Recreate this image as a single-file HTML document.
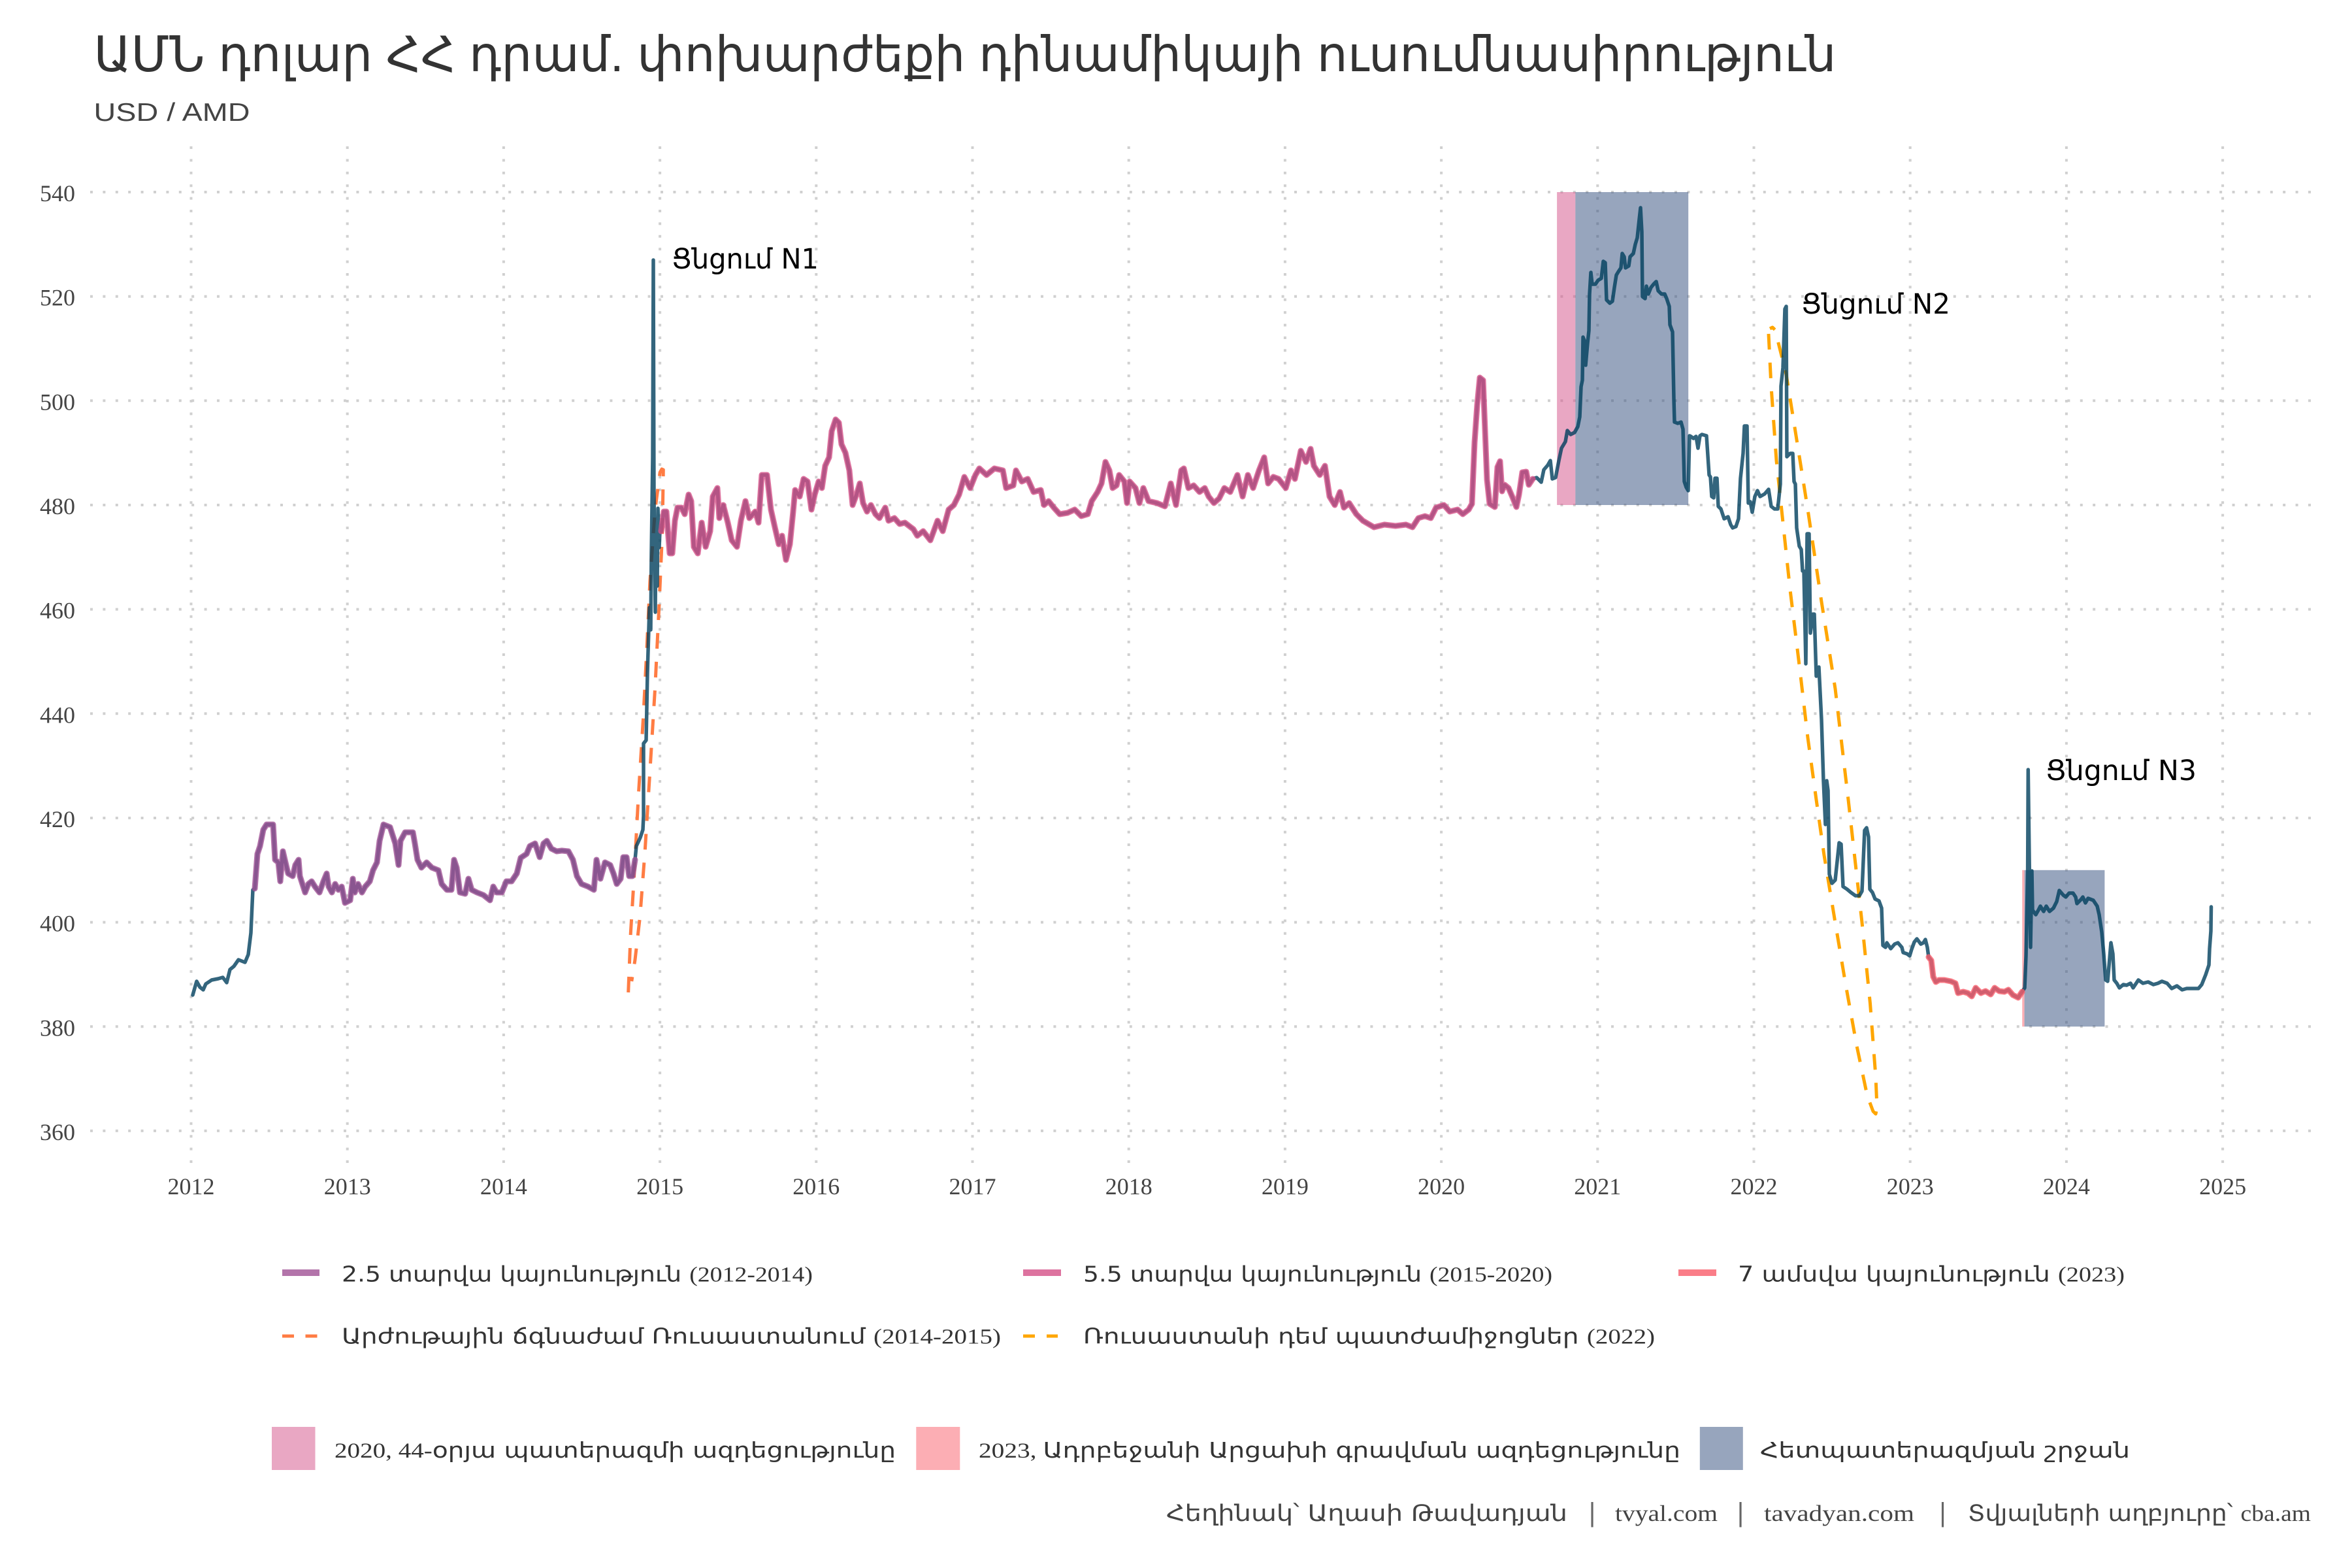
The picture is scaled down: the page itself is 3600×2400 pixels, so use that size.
<!DOCTYPE html>
<html><head><meta charset="utf-8"><style>
html,body{margin:0;padding:0;background:#fff;}
svg{display:block;}
</style></head><body>
<svg width="3600" height="2400" viewBox="0 0 3600 2400" xmlns="http://www.w3.org/2000/svg">
<rect x="0" y="0" width="3600" height="2400" fill="#ffffff"/>

<!-- Title -->
<text x="143.5" y="109" font-size="75" textLength="2667" lengthAdjust="spacingAndGlyphs" fill="#333333" font-family="'Liberation Sans','DejaVu Sans',sans-serif">ԱՄՆ դոլար ՀՀ դրամ. փոխարժեքի դինամիկայի ուսումնասիրություն</text>
<text x="143.5" y="185" font-size="39" textLength="239" lengthAdjust="spacingAndGlyphs" fill="#444444" font-family="'Liberation Sans','DejaVu Sans',sans-serif">USD / AMD</text>

<!-- Gridlines -->
<g stroke="#d0d0d0" stroke-width="4" stroke-dasharray="4 15.4" fill="none">
<path d="M138,294H3539 M138,453.7H3539 M138,613.3H3539 M138,773H3539 M138,932.6H3539 M138,1092.3H3539 M138,1252H3539 M138,1411.6H3539 M138,1571.3H3539 M138,1730.9H3539"/>
<path d="M292.5,1780V223 M531.7,1780V223 M770.9,1780V223 M1010.1,1780V223 M1249.3,1780V223 M1488.5,1780V223 M1727.7,1780V223 M1966.9,1780V223 M2206.1,1780V223 M2445.3,1780V223 M2684.5,1780V223 M2923.7,1780V223 M3162.9,1780V223 M3402.1,1780V223"/>
</g>

<!-- Shaded periods -->
<rect x="2383.1" y="294" width="28.2" height="479" fill="#d45087" fill-opacity="0.5"/>
<rect x="2411.3" y="294" width="172.9" height="479" fill="#2f4b7c" fill-opacity="0.5"/>
<rect x="3095.2" y="1331.8" width="3.4" height="239.5" fill="#f95d6a" fill-opacity="0.5"/>
<rect x="3098.6" y="1331.8" width="122.8" height="239.5" fill="#2f4b7c" fill-opacity="0.5"/>

<!-- Dashed crisis curves -->
<path d="M961.7,1519 L965.3,1428 970.4,1345 977,1221 984.7,1097 989.8,997 994.9,889 1002.6,781 1010.2,723 1013,718 1015.3,719 1013.8,815 1008.7,930 1002.6,1054 994.9,1179 987.2,1303 979.6,1403 972,1469 966.8,1502" fill="none" stroke="#ff7c43" stroke-width="5" stroke-dasharray="24 20" stroke-linejoin="round"/>
<path d="M2707,511 L2711,592 2719,705 2730,809 2740,903 2755,1026 2767,1129 2780,1224 2792,1309 2809,1412 2825,1507 2842,1601 2858,1677 2867,1701 2871,1705 2873,1696 2871,1648 2862.5,1536 2850,1412 2829,1224 2809,1054 2788,921 2767,780 2750.5,676 2734,573 2717,505 2713,501 2709,503" fill="none" stroke="#ffa600" stroke-width="5" stroke-dasharray="24 20" stroke-linejoin="round"/>

<!-- Main series -->
<path fill="none" stroke="#003f5c" stroke-opacity="0.8" stroke-width="5.5" stroke-linejoin="round" stroke-linecap="round" d="M295,1523 L301,1502 306,1511 311,1515 315,1506 324,1500 334,1498 341,1496 347,1504 352,1484 358,1479 365,1469 375,1473 380,1461 384,1428 387,1362 390,1360 394,1307 398,1295 403,1270 408,1262 418,1262 421,1316 426,1320 429,1349 433,1303 436,1316 441,1337 448,1341 452,1324 457,1316 459,1341 467,1366 472,1353 477,1349 482,1357 489,1366 495,1349 500,1337 503,1357 508,1366 513,1353 518,1362 523,1357 528,1382 536,1378 540,1345 543,1366 548,1353 554,1366 559,1357 566,1349 571,1332 577,1320 581,1287 587,1262 597,1266 605,1291 610,1324 613,1287 620,1274 632,1274 635,1291 639,1316 645,1328 653,1320 661,1328 671,1332 676,1353 684,1362 691,1362 695,1316 699,1328 704,1366 712,1368 717,1345 722,1362 730,1366 740,1370 750,1378 755,1357 760,1366 768,1366 775,1349 783,1349 791,1337 797,1313 806,1307 811,1295 819,1291 826,1312 832,1291 837,1287 844,1299 852,1303 860,1302 870,1303 877,1316 883,1341 890,1353 900,1357 909,1362 913,1316 919,1345 926,1320 934,1324 939,1337 944,1353 950,1345 954,1312 959,1312 963,1341 968,1341 972,1316 974,1295 980,1282 984,1270 985,1249 985,1138 989,1133 991,1030 994,930 996,964 997,847 999,700 1000,398 1001,758 1003,937 1004,798 1006,897 1007,778 1009,838 1010,814 1012,813 1016,783 1020,783 1025,847 1029,847 1033,797 1037,777 1043,777 1048,787 1054,757 1058,767 1062,837 1068,847 1074,800 1080,837 1087,813 1091,760 1098,747 1101,793 1107,773 1114,800 1120,827 1128,837 1134,797 1141,767 1147,793 1156,783 1161,800 1166,727 1174,727 1180,780 1186,807 1192,833 1197,820 1203,857 1209,833 1214,783 1217,750 1224,760 1230,733 1236,737 1242,780 1247,757 1253,737 1258,747 1263,713 1269,700 1273,660 1279,642 1284,647 1288,680 1294,693 1300,720 1305,773 1311,757 1316,740 1321,770 1327,783 1333,773 1340,787 1346,793 1355,777 1360,797 1369,793 1377,802 1385,800 1398,810 1404,820 1413,813 1424,827 1435,797 1443,813 1452,780 1460,773 1468,757 1476,730 1485,747 1493,727 1499,717 1510,727 1522,717 1535,720 1540,747 1551,743 1555,720 1564,737 1573,733 1582,753 1593,750 1598,773 1605,767 1613,777 1622,787 1634,785 1645,780 1655,790 1665,787 1671,767 1680,753 1686,740 1692,707 1698,720 1703,747 1709,743 1713,727 1721,737 1725,770 1729,737 1738,747 1744,770 1750,747 1758,767 1771,770 1783,775 1792,740 1800,773 1808,720 1812,717 1819,747 1827,743 1836,753 1844,747 1850,760 1858,770 1866,763 1874,747 1883,753 1894,727 1902,760 1910,727 1918,747 1927,720 1935,700 1941,740 1949,730 1957,733 1968,747 1976,720 1982,733 1991,690 1999,707 2006,687 2011,713 2020,727 2028,713 2035,760 2043,773 2051,753 2057,777 2065,770 2076,787 2086,797 2103,807 2119,803 2136,805 2152,803 2162,807 2171,793 2181,790 2190,793 2198,777 2210,773 2219,783 2231,780 2239,787 2248,780 2253,771 2257,677 2261,620 2265,578 2270,582 2273,658 2276,734 2280,771 2288,776 2292,715 2296,706 2299,752 2303,742 2309,747 2315,761 2321,776 2325,757 2330,723 2336,722 2340,742 2346,733 2352,731 2359,738 2363,719 2369,712 2373,705 2376,733 2381,731 2386,705 2390,686 2396,676 2399,659 2404,665 2410,662 2415,653 2418,638 2420,592 2422,582 2423,516 2425,521 2427,559 2430,525 2432,506 2433,450 2435,417 2437,435 2442,435 2446,429 2451,426 2454,400 2457,402 2459,459 2464,464 2468,461 2471,440 2474,421 2477,416 2481,410 2483,388 2486,393 2488,410 2493,407 2495,393 2500,388 2503,374 2506,364 2509,336 2511,318 2513,355 2514,454 2518,457 2520,438 2523,450 2527,440 2531,435 2535,431 2538,445 2543,450 2548,450 2551,457 2555,469 2556,497 2560,508 2562,610 2563,646 2568,648 2573,646 2576,657 2578,737 2581,746 2584,751 2586,667 2588,668 2592,671 2596,668 2599,686 2602,667 2605,665 2612,667 2616,727 2618,730 2620,760 2623,762 2625,732 2628,732 2630,775 2634,779 2639,794 2645,791 2649,803 2652,808 2657,806 2661,794 2664,732 2668,694 2670,652 2674,652 2676,770 2679,768 2682,784 2686,760 2690,751 2694,760 2701,756 2707,749 2711,775 2716,779 2721,779 2725,741 2726,591 2729,563 2732,473 2734,469 2735,699 2740,694 2744,694 2746,737 2748,741 2750,808 2754,836 2757,841 2759,874 2761,874 2764,1016 2766,817 2769,817 2771,969 2775,940 2777,940 2780,1035 2784,1021 2788,1101 2791,1195 2794,1262 2796,1195 2798,1210 2800,1338 2804,1352 2809,1347 2811,1328 2815,1290 2818,1292 2821,1357 2827,1361 2833,1366 2840,1371 2846,1371 2850,1364 2854,1271 2857,1267 2860,1281 2862,1361 2866,1366 2870,1376 2876,1379 2880,1390 2882,1447 2886,1450 2888,1443 2894,1452 2900,1445 2905,1443 2911,1450 2913,1458 2919,1460 2923,1463 2926,1453 2930,1442 2934,1437 2940,1445 2944,1443 2947,1438 2950,1450 2952,1465 2956,1470 2959,1495 2963,1503 2968,1500 2976,1500 2986,1502 2993,1505 2997,1520 3005,1518 3012,1520 3018,1525 3024,1512 3032,1520 3039,1517 3047,1522 3053,1512 3060,1517 3068,1518 3074,1515 3081,1523 3089,1527 3095,1518 3099,1512 3101,1463 3103.6,1333 3104.3,1178 3106.3,1333 3108,1450 3110,1333 3111,1393 3116,1400 3120,1393 3123,1387 3128,1395 3132,1387 3137,1395 3143,1390 3148,1380 3152,1363 3158,1370 3162,1373 3167,1367 3173,1367 3177,1373 3179,1383 3185,1377 3188,1373 3192,1382 3196,1375 3204,1378 3210,1387 3213,1400 3217,1427 3220,1460 3223,1500 3226,1502 3229,1467 3231,1443 3234,1460 3236,1500 3240,1505 3244,1512 3250,1507 3255,1508 3261,1505 3265,1512 3273,1500 3280,1505 3288,1503 3296,1507 3303,1505 3309,1502 3317,1505 3324,1513 3332,1509 3340,1515 3347,1513 3357,1513 3365,1513 3370,1507 3376,1492 3381,1477 3382,1452 3384,1425 3384.5,1388"/>

<!-- Stability overlays -->
<path fill="none" stroke="#a05195" stroke-opacity="0.8" stroke-width="9" stroke-linejoin="round" stroke-linecap="round" d="M390,1360 L394,1307 398,1295 403,1270 408,1262 418,1262 421,1316 426,1320 429,1349 433,1303 436,1316 441,1337 448,1341 452,1324 457,1316 459,1341 467,1366 472,1353 477,1349 482,1357 489,1366 495,1349 500,1337 503,1357 508,1366 513,1353 518,1362 523,1357 528,1382 536,1378 540,1345 543,1366 548,1353 554,1366 559,1357 566,1349 571,1332 577,1320 581,1287 587,1262 597,1266 605,1291 610,1324 613,1287 620,1274 632,1274 635,1291 639,1316 645,1328 653,1320 661,1328 671,1332 676,1353 684,1362 691,1362 695,1316 699,1328 704,1366 712,1368 717,1345 722,1362 730,1366 740,1370 750,1378 755,1357 760,1366 768,1366 775,1349 783,1349 791,1337 797,1313 806,1307 811,1295 819,1291 826,1312 832,1291 837,1287 844,1299 852,1303 860,1302 870,1303 877,1316 883,1341 890,1353 900,1357 909,1362 913,1316 919,1345 926,1320 934,1324 939,1337 944,1353 950,1345 954,1312 959,1312 963,1341 968,1341 972,1316"/>
<path fill="none" stroke="#d45087" stroke-opacity="0.8" stroke-width="9" stroke-linejoin="round" stroke-linecap="round" d="M1012,813 L1016,783 1020,783 1025,847 1029,847 1033,797 1037,777 1043,777 1048,787 1054,757 1058,767 1062,837 1068,847 1074,800 1080,837 1087,813 1091,760 1098,747 1101,793 1107,773 1114,800 1120,827 1128,837 1134,797 1141,767 1147,793 1156,783 1161,800 1166,727 1174,727 1180,780 1186,807 1192,833 1197,820 1203,857 1209,833 1214,783 1217,750 1224,760 1230,733 1236,737 1242,780 1247,757 1253,737 1258,747 1263,713 1269,700 1273,660 1279,642 1284,647 1288,680 1294,693 1300,720 1305,773 1311,757 1316,740 1321,770 1327,783 1333,773 1340,787 1346,793 1355,777 1360,797 1369,793 1377,802 1385,800 1398,810 1404,820 1413,813 1424,827 1435,797 1443,813 1452,780 1460,773 1468,757 1476,730 1485,747 1493,727 1499,717 1510,727 1522,717 1535,720 1540,747 1551,743 1555,720 1564,737 1573,733 1582,753 1593,750 1598,773 1605,767 1613,777 1622,787 1634,785 1645,780 1655,790 1665,787 1671,767 1680,753 1686,740 1692,707 1698,720 1703,747 1709,743 1713,727 1721,737 1725,770 1729,737 1738,747 1744,770 1750,747 1758,767 1771,770 1783,775 1792,740 1800,773 1808,720 1812,717 1819,747 1827,743 1836,753 1844,747 1850,760 1858,770 1866,763 1874,747 1883,753 1894,727 1902,760 1910,727 1918,747 1927,720 1935,700 1941,740 1949,730 1957,733 1968,747 1976,720 1982,733 1991,690 1999,707 2006,687 2011,713 2020,727 2028,713 2035,760 2043,773 2051,753 2057,777 2065,770 2076,787 2086,797 2103,807 2119,803 2136,805 2152,803 2162,807 2171,793 2181,790 2190,793 2198,777 2210,773 2219,783 2231,780 2239,787 2248,780 2253,771 2257,677 2261,620 2265,578 2270,582 2273,658 2276,734 2280,771 2288,776 2292,715 2296,706 2299,752 2303,742 2309,747 2315,761 2321,776 2325,757 2330,723 2336,722 2340,742 2346,733"/>
<path fill="none" stroke="#f95d6a" stroke-opacity="0.8" stroke-width="9" stroke-linejoin="round" stroke-linecap="round" d="M2952,1465 L2956,1470 2959,1495 2963,1503 2968,1500 2976,1500 2986,1502 2993,1505 2997,1520 3005,1518 3012,1520 3018,1525 3024,1512 3032,1520 3039,1517 3047,1522 3053,1512 3060,1517 3068,1518 3074,1515 3081,1523 3089,1527 3095,1518"/>

<!-- Annotations -->
<g font-size="43" fill="#000000" font-family="'DejaVu Sans','Liberation Sans',sans-serif">
<text x="1028" y="411" textLength="225" lengthAdjust="spacingAndGlyphs">Ցնցում N1</text>
<text x="2757" y="480" textLength="228" lengthAdjust="spacingAndGlyphs">Ցնցում N2</text>
<text x="3131" y="1194" textLength="231" lengthAdjust="spacingAndGlyphs">Ցնցում N3</text>
</g>

<!-- Y axis labels -->
<g font-family="'Liberation Serif',serif" font-size="36" fill="#444444" text-anchor="end">
<text x="115" y="308">540</text>
<text x="115" y="467.7">520</text>
<text x="115" y="627.3">500</text>
<text x="115" y="787">480</text>
<text x="115" y="946.6">460</text>
<text x="115" y="1106.3">440</text>
<text x="115" y="1266">420</text>
<text x="115" y="1425.6">400</text>
<text x="115" y="1585.3">380</text>
<text x="115" y="1744.9">360</text>
</g>

<!-- X axis labels -->
<g font-family="'Liberation Serif',serif" font-size="36" fill="#444444" text-anchor="middle">
<text x="292.5" y="1828">2012</text>
<text x="531.7" y="1828">2013</text>
<text x="770.9" y="1828">2014</text>
<text x="1010.1" y="1828">2015</text>
<text x="1249.3" y="1828">2016</text>
<text x="1488.5" y="1828">2017</text>
<text x="1727.7" y="1828">2018</text>
<text x="1966.9" y="1828">2019</text>
<text x="2206.1" y="1828">2020</text>
<text x="2445.3" y="1828">2021</text>
<text x="2684.5" y="1828">2022</text>
<text x="2923.7" y="1828">2023</text>
<text x="3162.9" y="1828">2024</text>
<text x="3402.1" y="1828">2025</text>
</g>

<!-- Legend: lines -->
<line x1="432" y1="1948" x2="489" y2="1948" stroke="#a05195" stroke-opacity="0.8" stroke-width="10"/>
<line x1="1566" y1="1948" x2="1624" y2="1948" stroke="#d45087" stroke-opacity="0.8" stroke-width="10"/>
<line x1="2569" y1="1948" x2="2627" y2="1948" stroke="#f95d6a" stroke-opacity="0.8" stroke-width="10"/>
<g stroke-width="5">
<line x1="432" y1="2045" x2="450" y2="2045" stroke="#ff7c43"/>
<line x1="467.5" y1="2045" x2="485.5" y2="2045" stroke="#ff7c43"/>
<line x1="1566" y1="2045" x2="1584" y2="2045" stroke="#ffa600"/>
<line x1="1602" y1="2045" x2="1619" y2="2045" stroke="#ffa600"/>
</g>
<rect x="416" y="2184" width="66.5" height="66" fill="#d45087" fill-opacity="0.5"/>
<rect x="1402.3" y="2184" width="67" height="66" fill="#f95d6a" fill-opacity="0.5"/>
<rect x="2601.8" y="2184" width="66" height="66" fill="#2f4b7c" fill-opacity="0.5"/>

<!-- Legend text -->
<g font-size="33" fill="#333333" font-family="'DejaVu Sans','Liberation Sans',sans-serif">
<text x="523" y="1961.7" textLength="721" lengthAdjust="spacingAndGlyphs">2.5 տարվա կայունություն <tspan font-family="'Liberation Serif',serif">(2012-2014)</tspan></text>
<text x="1658" y="1961.7" textLength="718" lengthAdjust="spacingAndGlyphs">5.5 տարվա կայունություն <tspan font-family="'Liberation Serif',serif">(2015-2020)</tspan></text>
<text x="2660" y="1961.7" textLength="592" lengthAdjust="spacingAndGlyphs">7 ամսվա կայունություն <tspan font-family="'Liberation Serif',serif">(2023)</tspan></text>
<text x="523" y="2056.7" textLength="1009" lengthAdjust="spacingAndGlyphs">Արժութային ճգնաժամ Ռուսաստանում <tspan font-family="'Liberation Serif',serif">(2014-2015)</tspan></text>
<text x="1658" y="2056.7" textLength="875" lengthAdjust="spacingAndGlyphs">Ռուսաստանի դեմ պատժամիջոցներ <tspan font-family="'Liberation Serif',serif">(2022)</tspan></text>
<text x="512" y="2231" textLength="859" lengthAdjust="spacingAndGlyphs"><tspan font-family="'Liberation Serif',serif">2020, 44-</tspan>օրյա պատերազմի ազդեցությունը</text>
<text x="1498" y="2231" textLength="1074" lengthAdjust="spacingAndGlyphs"><tspan font-family="'Liberation Serif',serif">2023, </tspan>Ադրբեջանի Արցախի գրավման ազդեցությունը</text>
<text x="2694" y="2231" textLength="566" lengthAdjust="spacingAndGlyphs">Հետպատերազմյան շրջան</text>
</g>

<!-- Footer -->
<g font-size="35" fill="#444444" font-family="'DejaVu Sans','Liberation Sans',sans-serif">
<text x="1785" y="2328" textLength="614" lengthAdjust="spacingAndGlyphs">Հեղինակ՝ Աղասի Թավադյան</text>
<text x="2437" y="2328" text-anchor="middle" font-size="38" fill="#666666">|</text>
<text x="2472" y="2328" textLength="157" lengthAdjust="spacingAndGlyphs" font-family="'Liberation Serif',serif">tvyal.com</text>
<text x="2664" y="2328" text-anchor="middle" font-size="38" fill="#666666">|</text>
<text x="2700" y="2328" textLength="230" lengthAdjust="spacingAndGlyphs" font-family="'Liberation Serif',serif">tavadyan.com</text>
<text x="2973.5" y="2328" text-anchor="middle" font-size="38" fill="#666666">|</text>
<text x="3012" y="2328" textLength="525" lengthAdjust="spacingAndGlyphs">Տվյալների աղբյուրը՝ <tspan font-family="'Liberation Serif',serif">cba.am</tspan></text>
</g>
</svg>
</body></html>
